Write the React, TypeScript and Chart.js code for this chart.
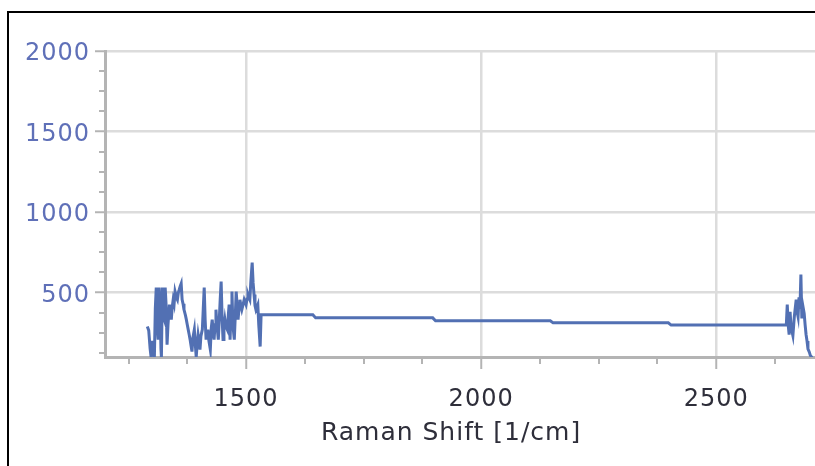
import React, { useEffect, useRef } from 'react';
import { Chart, registerables } from 'chart.js';

Chart.register(...registerables);

// Noisy low-wavenumber region
const leftX = [1290, 1293, 1296, 1298, 1300, 1303, 1305, 1307, 1309, 1311, 1313, 1315, 1317, 1319, 1320, 1322, 1324, 1326, 1328, 1330, 1332, 1334, 1337, 1339, 1341, 1343, 1345, 1347, 1349, 1352, 1354, 1356, 1358, 1360, 1362, 1364, 1366, 1368, 1371, 1373, 1375, 1377, 1379, 1381, 1383, 1385, 1387, 1390, 1392, 1394, 1396, 1398, 1400, 1402, 1404, 1407, 1409, 1411, 1413, 1415, 1417, 1419, 1421, 1424, 1426, 1428, 1430, 1432, 1434, 1436, 1438, 1441, 1443, 1445, 1447, 1449, 1451, 1453, 1455, 1457, 1460, 1462, 1464, 1466, 1468, 1470, 1472, 1475, 1477, 1479, 1481, 1483, 1485, 1487, 1489, 1491, 1494, 1496, 1498, 1500, 1502, 1504, 1506, 1508, 1510, 1513, 1515, 1517, 1519, 1521, 1523, 1525, 1527, 1530];
const leftY = [289, 265, 150, 100, 200, 120, 100, 400, 531, 300, 208, 531, 420, 150, 100, 531, 350, 332, 531, 420, 177, 300, 425, 380, 332, 410, 456, 430, 506, 470, 456, 500, 519, 540, 556, 456, 430, 394, 360, 332, 300, 270, 240, 208, 170, 134, 220, 270, 180, 100, 180, 239, 200, 146, 230, 270, 400, 531, 330, 208, 250, 270, 200, 146, 280, 332, 260, 208, 300, 394, 300, 208, 330, 456, 568, 350, 208, 280, 332, 290, 270, 350, 425, 208, 380, 506, 300, 208, 350, 506, 420, 332, 400, 456, 420, 394, 430, 456, 440, 425, 460, 488, 470, 456, 560, 686, 560, 488, 420, 394, 410, 425, 300, 165];

// Flat stepped region
const stepX = [1532, 1642, 1648, 1897, 1903, 2147, 2153, 2398, 2404, 2649];
const stepY = [363, 363, 343, 343, 325, 325, 312, 312, 298, 298];

// Noisy high-wavenumber region
const rightX = [2651, 2653, 2655, 2657, 2659, 2661, 2663, 2666, 2670, 2672, 2674, 2676, 2678, 2680, 2682, 2684, 2687, 2689, 2691, 2693, 2695, 2698, 2700, 2704];
const rightY = [425, 300, 239, 380, 290, 260, 233, 350, 456, 380, 350, 470, 400, 612, 340, 420, 370, 300, 240, 200, 150, 130, 110, 96];

const xTicks = [1250, 1375, 1500, 1625, 1750, 1875, 2000, 2125, 2250, 2375, 2500, 2625];
const xMajor = [1500, 2000, 2500];
const yTicks = [125, 250, 375, 500, 625, 750, 875, 1000, 1125, 1250, 1375, 1500, 1625, 1750, 1875, 2000];
const yMajor = [500, 1000, 1500, 2000];

const xTitle = 'Raman Shift [1/cm]';

export default function App() {
  const ref = useRef<HTMLCanvasElement>(null);

  useEffect(() => {
    document.body.style.margin = '0';
    document.body.style.overflow = 'hidden';
    const xs = [...leftX, ...stepX, ...rightX];
    const ys = [...leftY, ...stepY, ...rightY];
    const points = xs.map((x, i) => ({ x, y: ys[i] }));

    const axisColor = '#b4b4b4';
    const gridColor = '#dcdcdc';
    const font = { family: 'DejaVu Sans', size: 24 };

    const spacingPlugin = {
      id: 'spacing',
      beforeDraw(chart: any) {
        try { chart.ctx.letterSpacing = '1px'; } catch (e) {}
      },
    };

    const minorTicks = {
      id: 'minorTicks',
      afterDraw(chart: any) {
        const { ctx, chartArea, scales } = chart;
        ctx.save();
        ctx.strokeStyle = axisColor;
        ctx.lineWidth = 2;
        ctx.beginPath();
        yTicks.filter(v => !yMajor.includes(v)).forEach(v => {
          const py = Math.round(scales.y.getPixelForValue(v));
          ctx.moveTo(chartArea.left - 6, py);
          ctx.lineTo(chartArea.left, py);
        });
        xTicks.filter(v => !xMajor.includes(v)).forEach(v => {
          const px = Math.round(scales.x.getPixelForValue(v));
          ctx.moveTo(px, chartArea.bottom);
          ctx.lineTo(px, chartArea.bottom + 7);
        });
        ctx.stroke();
        ctx.restore();
      },
    };

    const chart = new Chart(ref.current as HTMLCanvasElement, {
      type: 'line',
      data: {
        datasets: [{
          data: points,
          borderColor: '#5270b3',
          borderWidth: 3,
          pointRadius: 0,
          tension: 0,
          fill: false,
        }],
      },
      options: {
        animation: false,
        responsive: false,
        maintainAspectRatio: false,
        layout: { padding: { top: 38, left: 0, right: 0, bottom: 0 } },
        plugins: { legend: { display: false }, tooltip: { enabled: false } },
        scales: {
          x: {
            type: 'linear',
            min: 1200,
            max: 2710,
            afterBuildTicks: (s: any) => { s.ticks = xTicks.map(v => ({ value: v })); },
            afterFit: (s: any) => { s.height = 109; },
            ticks: {
              autoSkip: false,
              maxRotation: 0,
              padding: 16,
              color: '#2e2e3a',
              font,
              callback: (v: any) => (xMajor.includes(v) ? String(v) : ''),
            },
            grid: {
              lineWidth: 2.5,
              color: (c: any) => (c.tick && xMajor.includes(c.tick.value) ? gridColor : 'rgba(0,0,0,0)'),
              tickColor: (c: any) => (c.tick && xMajor.includes(c.tick.value) ? axisColor : 'rgba(0,0,0,0)'),
              tickLength: 12,
              tickWidth: 2,
            },
            border: { color: axisColor, width: 3 },
            title: {
              display: true,
              text: xTitle + '\u00A0\u00A0',
              color: '#2e2e3a',
              font: { family: 'DejaVu Sans', size: 25 },
              padding: { top: 0, bottom: 18 },
            },
          },
          y: {
            type: 'linear',
            min: 100,
            max: 2000,
            afterBuildTicks: (s: any) => { s.ticks = yTicks.map(v => ({ value: v })); },
            afterFit: (s: any) => { s.width = 96; },
            ticks: {
              autoSkip: false,
              padding: 5,
              labelOffset: 3,
              color: '#5f70b8',
              font,
              callback: (v: any) => (yMajor.includes(v) ? String(v) : ''),
            },
            grid: {
              lineWidth: 2.5,
              color: (c: any) => (c.tick && yMajor.includes(c.tick.value) ? gridColor : 'rgba(0,0,0,0)'),
              tickColor: (c: any) => (c.tick && yMajor.includes(c.tick.value) ? axisColor : 'rgba(0,0,0,0)'),
              tickLength: 10,
              tickWidth: 2,
            },
            border: { color: axisColor, width: 3 },
          },
        },
      },
      plugins: [spacingPlugin, minorTicks],
    } as any);

    return () => chart.destroy();
  }, []);

  return (
    <div
      style={{
        position: 'absolute',
        left: 7,
        top: 11,
        width: 808,
        height: 455,
        borderTop: '2px solid #000',
        borderLeft: '2px solid #000',
        boxSizing: 'border-box',
        overflow: 'hidden',
        background: '#fff',
      }}
    >
      <canvas ref={ref} width={806} height={453} style={{ display: 'block' }} />
    </div>
  );
}
